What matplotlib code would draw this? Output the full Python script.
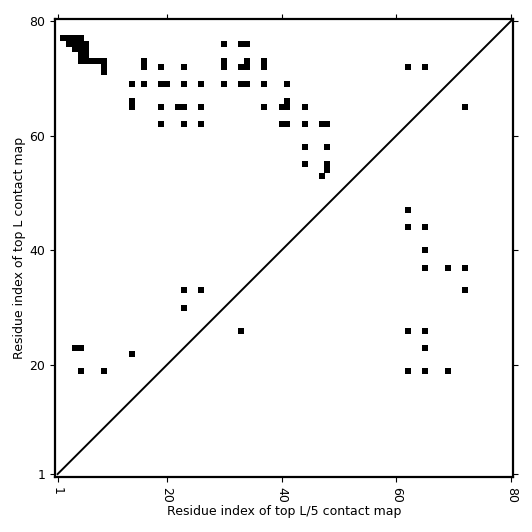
import matplotlib
matplotlib.use('Agg')
import matplotlib.pyplot as plt

L = 80

# top L predicted contacts (i, j), i < j  -> drawn above the diagonal
top_L_i = [2, 3, 4, 5, 3, 4, 5, 6, 4, 5, 6, 5, 6, 5, 6, 7, 8, 9, 9, 9,
           30, 33, 34,
           16, 16, 19, 23, 30, 30, 33, 34, 34, 37, 37, 62, 65,
           14, 16, 19, 20, 23, 26, 30, 33, 34, 37, 41,
           14, 14, 19, 22, 23, 26, 37, 40, 41, 41, 44,
           19, 23, 26, 40, 41, 44, 47, 48,
           44, 48, 44, 48, 48, 47,
           23, 26, 23, 4, 5, 14, 5, 9]
top_L_j = [77, 77, 77, 77, 76, 76, 76, 76, 75, 75, 75, 74, 74, 73, 73, 73, 73, 73, 72, 71,
           76, 76, 76,
           72, 73, 72, 72, 72, 73, 72, 72, 73, 72, 73, 72, 72,
           69, 69, 69, 69, 69, 69, 69, 69, 69, 69, 69,
           65, 66, 65, 65, 65, 65, 65, 65, 65, 66, 65,
           62, 62, 62, 62, 62, 62, 62, 62,
           58, 58, 55, 55, 54, 53,
           33, 33, 30, 23, 23, 22, 19, 19]

# top L/5 contacts (i, j), i < j  -> drawn below the diagonal as (j, i)
top_L5_i = [47, 44, 44, 40, 37, 37, 37, 33, 26, 26, 23, 19, 19, 19, 65, 26]
top_L5_j = [62, 62, 65, 65, 65, 69, 72, 72, 62, 65, 65, 62, 65, 69, 72, 33]

ticks = [1, 20, 40, 60, 80]

fig = plt.figure(figsize=(5.32, 5.32), dpi=100)
ax = fig.add_axes([0.1034, 0.104, 0.8603, 0.8597])

ax.scatter(top_L_i, top_L_j, marker='s', s=17.5, c='black', linewidths=0)
ax.scatter(top_L5_j, top_L5_i, marker='s', s=17.5, c='black', linewidths=0)
ax.plot([1, L], [1, L], color='black', linewidth=1.4)

ax.set_xlim(0.55, 80.25)
ax.set_ylim(0.55, 80.25)
ax.set_xticks(ticks)
ax.set_yticks(ticks)
ax.set_xticklabels([str(t) for t in ticks], rotation=-90)
ax.tick_params(direction='out', length=3.6, width=0.8, labelsize=9,
               top=True, right=True)
for sp in ax.spines.values():
    sp.set_linewidth(1.6)

ax.set_xlabel('Residue index of top L/5 contact map', fontsize=9, labelpad=2)
ax.set_ylabel('Residue index of top L contact map', fontsize=9, labelpad=2)

fig.savefig('out.png', dpi=100)
plt.close(fig)
